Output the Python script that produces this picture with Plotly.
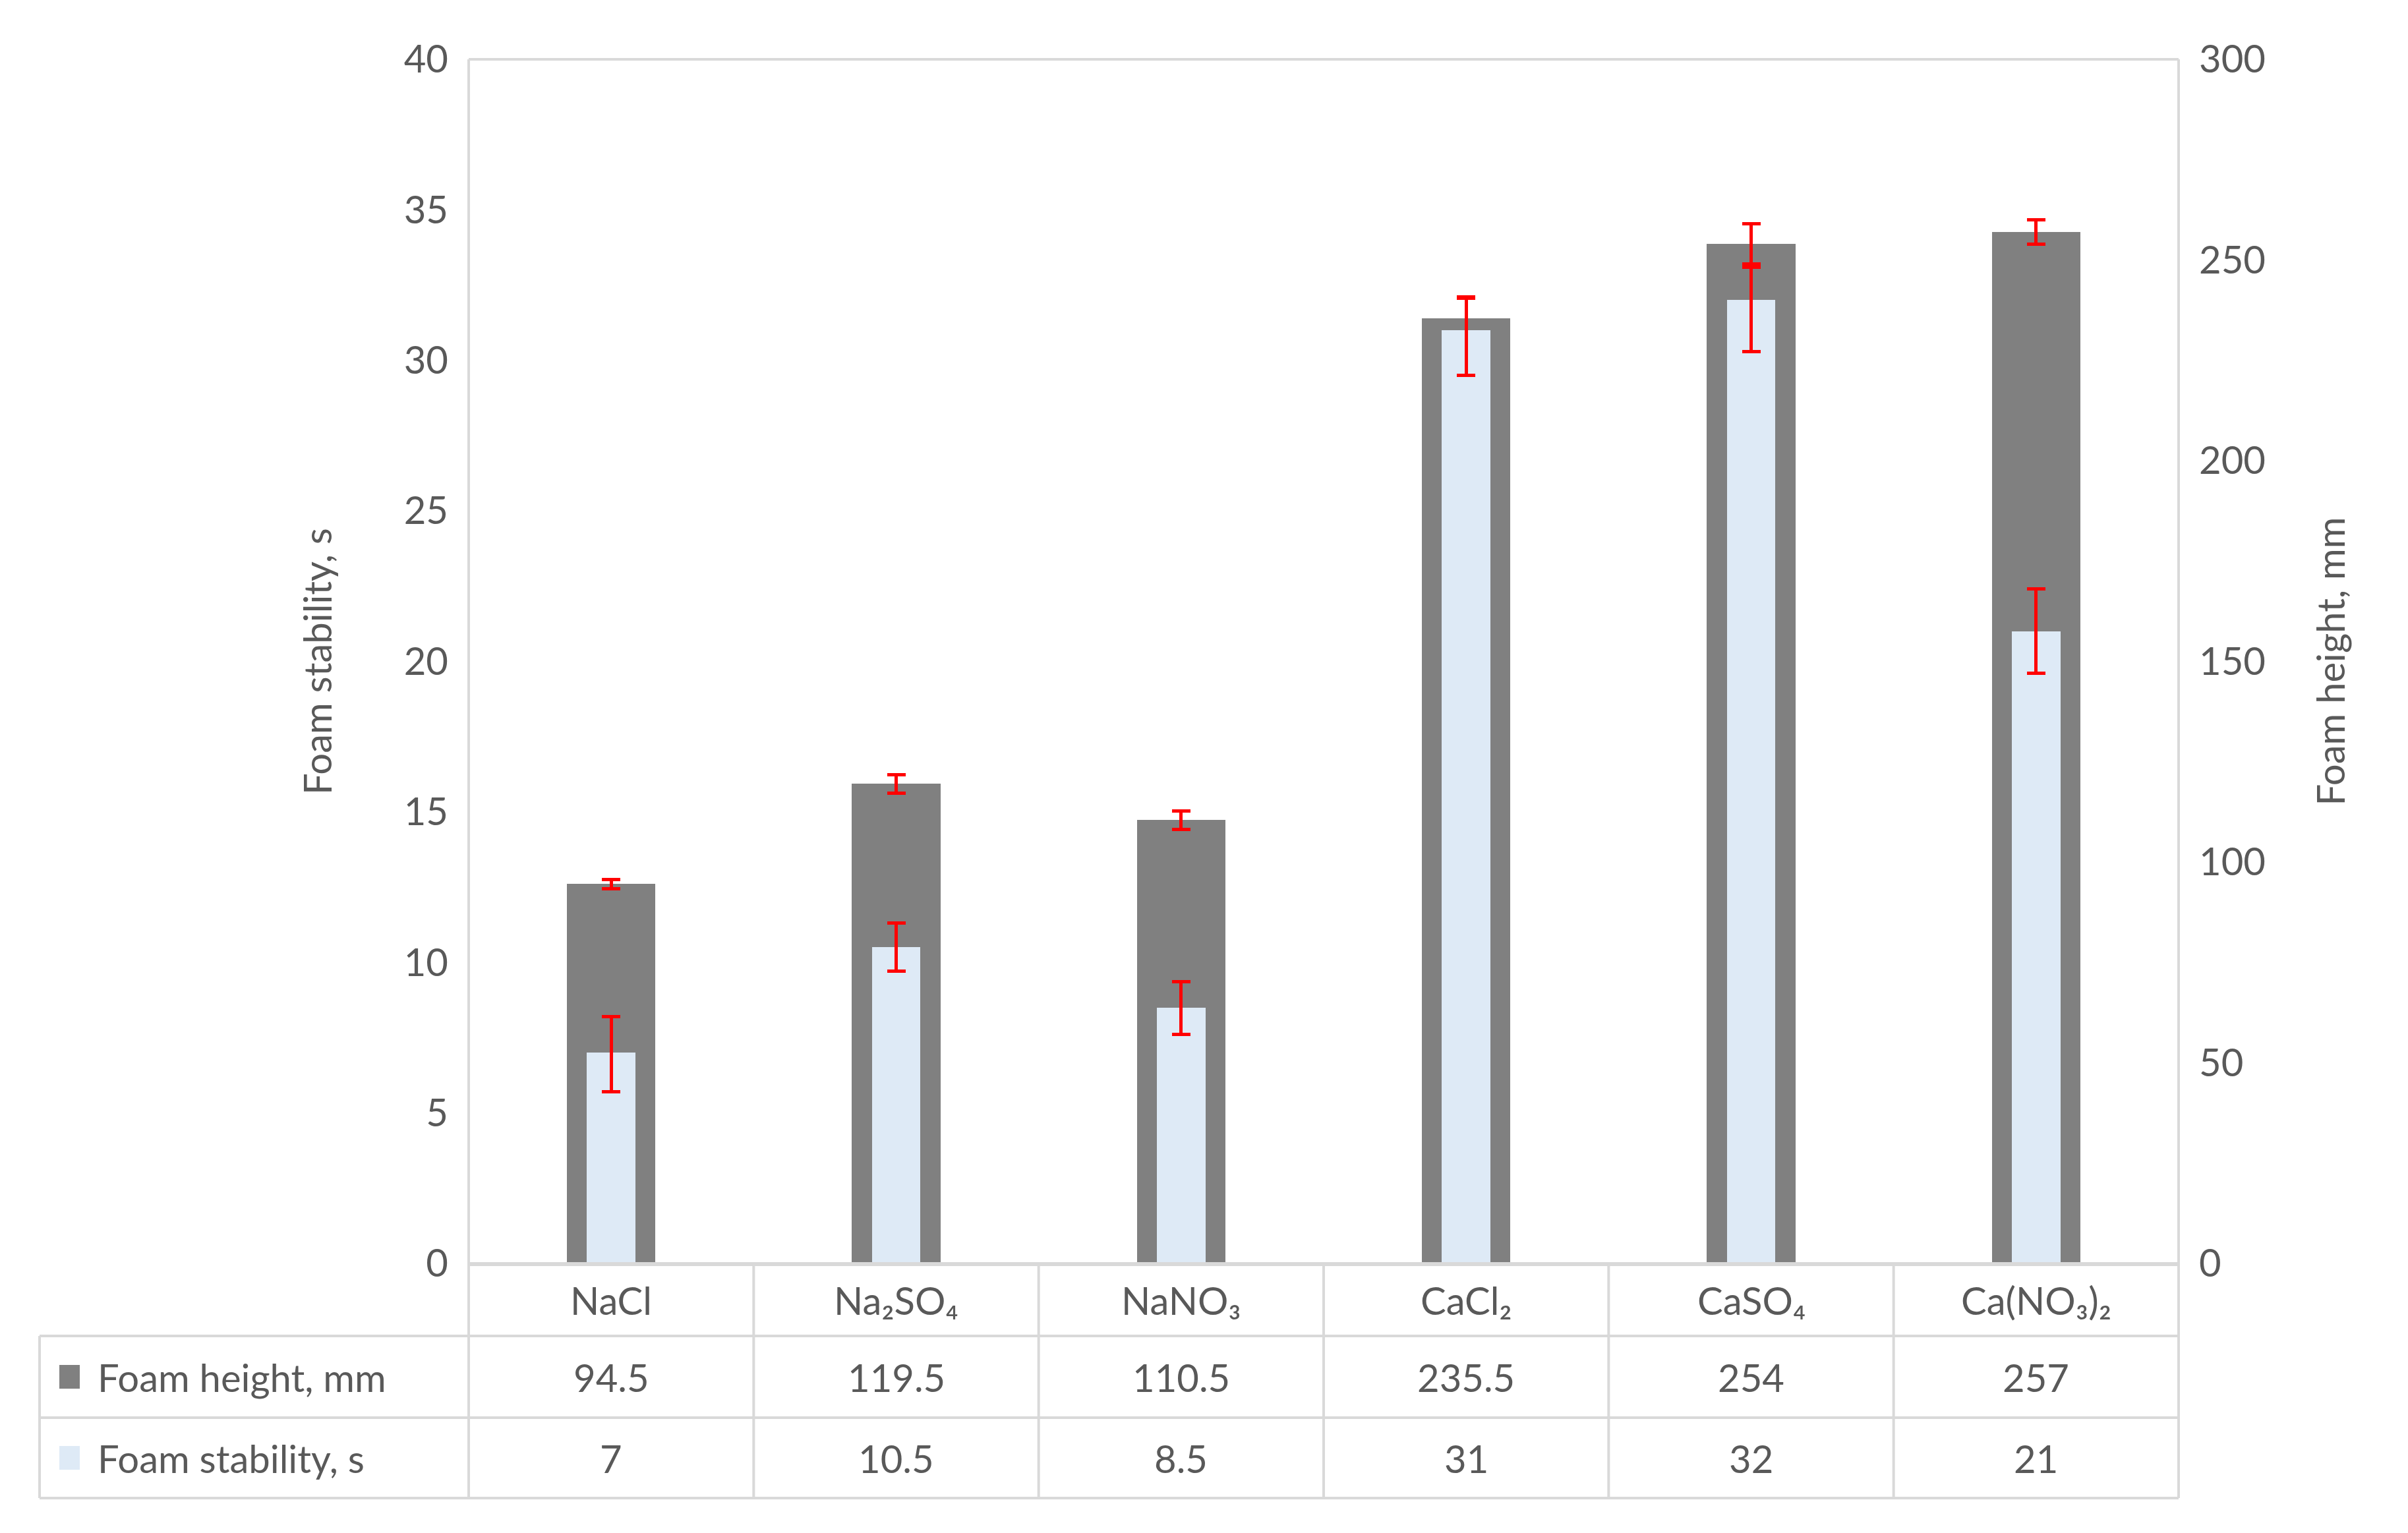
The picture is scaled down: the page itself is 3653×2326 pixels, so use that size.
import plotly.graph_objects as go

categories = ["NaCl", "Na₂SO₄", "NaNO₃", "CaCl₂", "CaSO₄", "Ca(NO₃)₂"]
height_mm = [94.5, 119.5, 110.5, 235.5, 254, 257]
height_err = [1.2, 2.3, 2.3, 5, 5, 3]
stability_s = [7, 10.5, 8.5, 31, 32, 21]
stab_err_plus = [1.2, 0.8, 0.85, 1.1, 1.1, 1.4]
stab_err_minus = [1.3, 0.8, 0.9, 1.5, 1.7, 1.4]
left_ticks = [0, 5, 10, 15, 20, 25, 30, 35, 40]
right_ticks = [0, 50, 100, 150, 200, 250, 300]

W, H = 3653, 2326
L, R, T, B = 703, 3297, 82, 1909
FONT = "Lato"
TXT = "#595959"
GRID = "#D9D9D9"
FS = 58

def px(x): return (x - L) / (R - L)
def py(y): return (B - y) / (B - T)

fig = go.Figure()
fig.add_trace(go.Bar(x=categories, y=height_mm, yaxis="y", width=0.31,
                     marker=dict(color="#808080", line=dict(width=0)),
                     name="Foam height, mm",
                     error_y=dict(type="data", array=height_err, color="#FF0000",
                                  thickness=5, width=14)))
fig.add_trace(go.Bar(x=categories, y=stability_s, yaxis="y2", width=0.17,
                     marker=dict(color="#DEEAF6", line=dict(width=0)),
                     name="Foam stability, s",
                     error_y=dict(type="data", array=stab_err_plus, arrayminus=stab_err_minus,
                                  color="#FF0000", thickness=5, width=14)))

shapes = []
def line(x0, y0, x1, y1, w=4):
    shapes.append(dict(type="line", xref="paper", yref="paper", x0=px(x0), y0=py(y0),
                       x1=px(x1), y1=py(y1), line=dict(color=GRID, width=w)))

line(L, T, R, T); line(L, T, L, B); line(R, T, R, B)
rows = [1909, 2019, 2143, 2265]
colw = (R - L) / 6
line(L, rows[0], R, rows[0])
for y in rows[1:]:
    line(52, y, R, y)
line(52, rows[1], 52, rows[3])
for i in range(7):
    line(L + i * colw, rows[0], L + i * colw, rows[3])

ann = []
def text(x, y, s, xa="center"):
    ann.append(dict(xref="paper", yref="paper", x=px(x), y=py(y), text=s, showarrow=False,
                    xanchor=xa, yanchor="middle", font=dict(family=FONT, size=FS, color=TXT)))

for i, c in enumerate(categories):
    cx = L + (i + 0.5) * colw
    text(cx, (rows[0] + rows[1]) / 2, c)
    text(cx, (rows[1] + rows[2]) / 2, f"{height_mm[i]:g}")
    text(cx, (rows[2] + rows[3]) / 2, f"{stability_s[i]:g}")

for (ya, yb), name, col in [((rows[1], rows[2]), "Foam height, mm", "#808080"),
                            ((rows[2], rows[3]), "Foam stability, s", "#DEEAF6")]:
    cy = (ya + yb) / 2
    shapes.append(dict(type="rect", xref="paper", yref="paper", x0=px(82), x1=px(113),
                       y0=py(cy + 18), y1=py(cy - 18), fillcolor=col, line=dict(width=0)))
    text(138, cy, name, xa="left")

fig.update_layout(
    width=W, height=H, plot_bgcolor="white", paper_bgcolor="white",
    margin=dict(l=L, r=W - R, t=T, b=H - B),
    barmode="overlay", bargap=0, showlegend=False,
    font=dict(family=FONT, size=FS, color=TXT),
    xaxis=dict(showticklabels=False, ticks="", showline=True, linecolor=GRID, linewidth=4,
               showgrid=False),
    yaxis=dict(range=[0, 300], tickvals=right_ticks, side="right", showgrid=False,
               ticks="", zeroline=False,
               title=dict(text="Foam height, mm", standoff=80, font=dict(size=FS)),
               ticklabelstandoff=30),
    yaxis2=dict(range=[0, 40], tickvals=left_ticks, overlaying="y", side="left",
                showgrid=False, ticks="", zeroline=False,
                title=dict(text="Foam stability, s", standoff=90, font=dict(size=FS)),
                ticklabelstandoff=30),
    shapes=shapes, annotations=ann,
)
fig.write_html("out.html")
